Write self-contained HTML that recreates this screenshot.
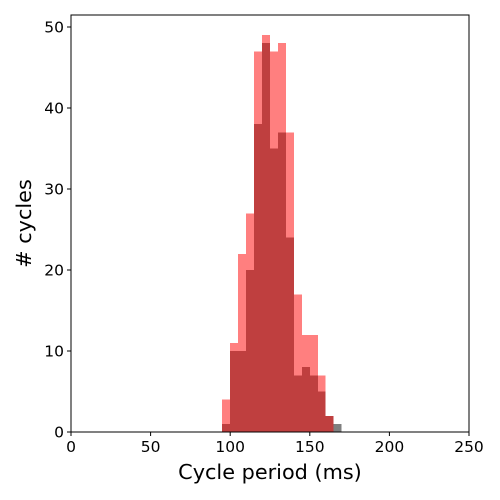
<!DOCTYPE html>
<html><head><meta charset="utf-8"><style>
html,body{margin:0;padding:0;background:#fff;}
svg{display:block;font-family:"DejaVu Sans","Liberation Sans",sans-serif;}
</style></head><body>
<svg id="chart" width="500" height="500">
<rect width="500" height="500" fill="#fff"/>
<g id="bars" shape-rendering="crispEdges"></g>
<g id="axes"></g>
</svg>
<script>
const binStarts = [95,100,105,110,115,120,125,130,135,140,145,150,155,160,165];
const grayCounts = [1,10,10,20,38,48,35,37,24,7,8,7,5,2,1];
const redCounts = [4,11,22,27,47,49,47,48,37,17,12,12,7,2,0];
const xTicks = [0,50,100,150,200,250];
const yTicks = [0,10,20,30,40,50];
const binWidth = 5;

const L=71,R=469,T=15,B=432;
const xs = v => L + v*(R-L)/250;
const ys = v => B - v*(B-27)/50;
const NS="http://www.w3.org/2000/svg";
const bars=document.getElementById('bars'), axes=document.getElementById('axes');
function mk(tag,attrs,parent){const e=document.createElementNS(NS,tag);for(const k in attrs)e.setAttribute(k,attrs[k]);parent.appendChild(e);return e;}

binStarts.forEach((b,i)=>{
  if(grayCounts[i]>0){
    const r=mk('rect',{x:xs(b),y:ys(grayCounts[i]),width:xs(b+binWidth)-xs(b),height:B-ys(grayCounts[i]),fill:'#000','fill-opacity':0.5},bars);
    
    
  }
});
binStarts.forEach((b,i)=>{
  if(redCounts[i]>0){
    const r=mk('rect',{x:xs(b),y:ys(redCounts[i]),width:xs(b+binWidth)-xs(b),height:B-ys(redCounts[i]),fill:'#ff0000','fill-opacity':0.5},bars);
    
    
  }
});

const frame=mk('rect',{x:L,y:T,width:R-L,height:B-T,fill:'none',stroke:'#000','stroke-width':1},axes);



xTicks.forEach(v=>{
  mk('line',{x1:xs(v),x2:xs(v),y1:B,y2:B+4,stroke:'#000'},axes);
  const t=mk('text',{x:xs(v),y:B+20,'text-anchor':'middle','font-size':'15.5px',fill:'#000'},axes);
  t.textContent=v;
  
  
});
yTicks.forEach(v=>{
  mk('line',{x1:L-4,x2:L,y1:ys(v),y2:ys(v),stroke:'#000'},axes);
  const t=mk('text',{x:L-7,y:ys(v)+5.5,'text-anchor':'end','font-size':'15.5px',fill:'#000'},axes);
  t.textContent=v;
  
  
});
const xt=mk('text',{x:(L+R)/2,y:479,'text-anchor':'middle','font-size':'20.8px',fill:'#000'},axes);
xt.textContent='Cycle period (ms)';


const yt=mk('text',{x:31,y:(T+B)/2,'text-anchor':'middle','font-size':'20.8px',fill:'#000',transform:`rotate(-90 31 ${(T+B)/2})`},axes);
yt.textContent='# cycles';


</script>
</body></html>
